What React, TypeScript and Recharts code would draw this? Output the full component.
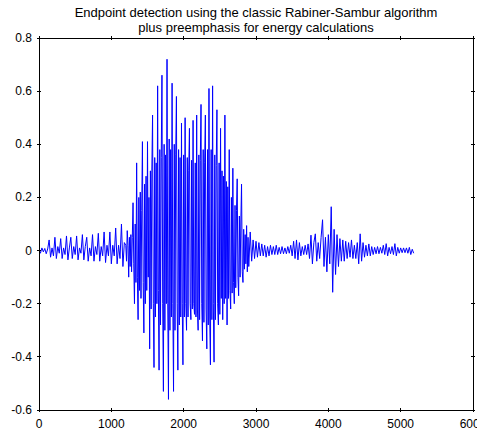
import { Line, LineChart, XAxis, YAxis } from "recharts";

// speech waveform: 0..1180 and 2900..5180 every 20 samples, the vowel every 10

// 0 .. 1180: silence, then small voiced pulses
const onset = [
  0.005, -0.01, 0.01, -0.005, 0.008, -0.012, 0.006, 0.04, -0.025, 0.01,
  -0.02, 0.05, -0.03, 0.015, -0.01, 0.045, -0.03, 0.01, -0.015, 0.055,
  -0.035, 0.01, 0.05, -0.03, 0.015, -0.015, 0.055, -0.035, 0.01, -0.01,
  0.06, -0.035, 0.015, 0.05, -0.04, 0.01, -0.02, 0.06, -0.04, 0.015,
  -0.015, 0.065, -0.04, 0.015, -0.02, 0.07, -0.045, 0.02, -0.02, 0.07,
  -0.05, 0.02, -0.02, 0.085, -0.05, 0.02, -0.03, 0.1, -0.06, 0.03,
];

// 1200 .. 2890: the vowel
const vowel = [
  0.02, -0.04, 0.075, 0.02, -0.1, 0.05, -0.06, 0.06, -0.08, 0.05,
  0.18, -0.05, -0.2, 0.1, -0.12, 0.33, -0.1, -0.26, 0.2, -0.15,
  0.22, -0.18, 0.15, 0.41, -0.12, -0.31, 0.25, -0.2, 0.28, -0.15,
  0.41, -0.1, 0.2, -0.37, 0.3, -0.22, 0.3, 0.51, -0.2, -0.44,
  0.35, -0.25, 0.33, -0.2, 0.62, -0.15, -0.45, 0.38, -0.28, 0.35,
  0.66, -0.2, -0.53, 0.4, -0.3, 0.36, -0.2, 0.72, -0.2, -0.56,
  0.42, -0.3, 0.38, -0.25, 0.63, -0.2, -0.53, 0.4, -0.3, 0.36,
  0.58, -0.2, -0.45, 0.38, -0.28, 0.35, -0.25, 0.48, -0.2, -0.43,
  0.36, -0.25, 0.5, -0.2, -0.3, 0.35, -0.25, 0.3, 0.46, -0.2,
  -0.26, 0.34, -0.22, 0.49, -0.2, -0.24, 0.33, -0.25, 0.51, -0.22,
  -0.3, 0.36, -0.26, 0.34, 0.55, -0.2, -0.34, 0.38, -0.27, 0.33,
  0.51, -0.22, -0.37, 0.38, -0.28, 0.61, -0.25, -0.43, 0.38, -0.26,
  0.62, -0.2, -0.42, 0.36, -0.26, 0.32, 0.53, -0.2, -0.28, 0.33,
  -0.24, 0.46, -0.18, 0.3, -0.26, 0.28, -0.2, 0.51, -0.18, 0.26,
  -0.28, 0.24, -0.18, 0.38, -0.15, -0.22, 0.2, -0.16, 0.31, -0.12,
  -0.2, 0.17, -0.14, 0.15, 0.27, -0.1, -0.17, 0.13, -0.1, 0.1,
  0.25, -0.08, -0.12, 0.08, -0.07, 0.06, -0.05, 0.094, -0.08, 0.05,
];

// 2900 .. 5180: low noise and the final burst
const coda = [
  -0.06, 0.07, -0.04, 0.04, -0.03, 0.035, -0.025, 0.03, -0.02, 0.025,
  -0.02, 0.02, -0.025, 0.015, -0.02, 0.02, -0.015, 0.015, -0.015, 0.02,
  -0.015, 0.012, -0.012, 0.015, -0.012, 0.01, -0.012, 0.015, -0.01, 0.02,
  -0.02, 0.035, -0.03, 0.04, -0.035, 0.03, -0.02, 0.015, -0.015, 0.02,
  -0.015, 0.025, -0.03, 0.058, -0.05, 0.03, 0.063, -0.04, 0.03, -0.03,
  0.05, 0.116, -0.06, 0.05, -0.08, 0.06, -0.05, 0.165, -0.157, 0.08,
  -0.09, 0.06, -0.06, 0.045, -0.04, 0.04, -0.04, 0.035, -0.03, 0.03,
  -0.025, 0.04, -0.03, 0.02, -0.03, 0.03, -0.05, 0.063, -0.04, 0.03,
  -0.025, 0.02, -0.02, 0.025, -0.02, 0.015, -0.015, 0.012, -0.012, 0.015,
  -0.012, 0.012, -0.01, 0.02, -0.015, 0.026, -0.02, 0.012, -0.012, 0.015,
  -0.015, 0.026, -0.02, 0.012, -0.01, 0.01, -0.008, 0.01, -0.008, 0.01,
  -0.01, 0.012, -0.015, 0.005, -0.01,
];

const segments = [
  { start: 0, step: 20, values: onset },
  { start: 1200, step: 10, values: vowel },
  { start: 2900, step: 20, values: coda },
];

const xTicks = [0, 1000, 2000, 3000, 4000, 5000, 6000];
const yTicks = [-0.6, -0.4, -0.2, 0, 0.2, 0.4, 0.6, 0.8];
const titleLines = [
  "Endpoint detection using the classic Rabiner-Sambur algorithm",
  "plus preemphasis for energy calculations",
];

const data = segments.flatMap((s) => s.values.map((v, i) => ({ n: s.start + i * s.step, v })));

const FONT = "Arial, 'Liberation Sans', sans-serif";
const TICK = 4;
const AXIS = { stroke: "#000", shapeRendering: "crispEdges" };

function BottomTick({ x, y, payload }: any) {
  return (
    <g>
      <line x1={x} x2={x} y1={y} y2={y - TICK} stroke="#000" shapeRendering="crispEdges" />
      <text x={x} y={y + 16} textAnchor="middle" fontFamily={FONT} fontSize={12} fill="#000">
        {payload.value}
      </text>
    </g>
  );
}

function TopTick({ x, y }: any) {
  return <line x1={x} x2={x} y1={y} y2={y + TICK} stroke="#000" shapeRendering="crispEdges" />;
}

function LeftTick({ x, y, payload }: any) {
  return (
    <g>
      <line x1={x} x2={x + TICK} y1={y} y2={y} stroke="#000" shapeRendering="crispEdges" />
      <text x={x - 5} y={y + 4} textAnchor="end" fontFamily={FONT} fontSize={12} fill="#000">
        {String(payload.value)}
      </text>
    </g>
  );
}

function RightTick({ x, y }: any) {
  return <line x1={x} x2={x - TICK} y1={y} y2={y} stroke="#000" shapeRendering="crispEdges" />;
}

export default function App() {
  return (
    <div style={{ position: "relative", width: 477, height: 422 }}>
      <style>{`.recharts-wrapper, .recharts-surface { overflow: visible !important; }`}</style>
      {titleLines.map((t, i) => (
        <div
          key={i}
          style={{
            position: "absolute",
            left: 248,
            top: -3 + i * 15,
            transform: "translateX(-50%)",
            whiteSpace: "nowrap",
            fontFamily: FONT,
            fontSize: 13,
            lineHeight: "15px",
            color: "#000",
          }}
        >
          {t}
        </div>
      ))}
      <LineChart
        width={477}
        height={422}
        data={data}
        margin={{ top: 29, right: 11, left: 0, bottom: 0 }}
        style={{ overflow: "visible" }}
      >
        <XAxis
          dataKey="n"
          type="number"
          domain={[0, 6000]}
          ticks={xTicks}
          interval={0}
          height={20}
          tickSize={0}
          tickLine={false}
          axisLine={AXIS}
          tick={<BottomTick />}
          allowDataOverflow
        />
        <XAxis
          xAxisId="top"
          orientation="top"
          dataKey="n"
          type="number"
          domain={[0, 6000]}
          ticks={xTicks}
          interval={0}
          height={1}
          tickSize={0}
          tickLine={false}
          axisLine={AXIS}
          tick={<TopTick />}
          allowDataOverflow
        />
        <YAxis
          type="number"
          domain={[-0.6, 0.8]}
          ticks={yTicks}
          interval={0}
          width={31}
          tickSize={0}
          tickLine={false}
          axisLine={AXIS}
          tick={<LeftTick />}
          allowDataOverflow
        />
        <YAxis
          yAxisId="right"
          orientation="right"
          type="number"
          domain={[-0.6, 0.8]}
          ticks={yTicks}
          interval={0}
          width={1}
          tickSize={0}
          tickLine={false}
          axisLine={AXIS}
          tick={<RightTick />}
          allowDataOverflow
        />
        <Line
          type="linear"
          dataKey="v"
          stroke="#0000ff"
          strokeWidth={1}
          dot={false}
          isAnimationActive={false}
        />
        <Line
          xAxisId="top"
          yAxisId="right"
          type="linear"
          dataKey="v"
          stroke="none"
          dot={false}
          activeDot={false}
          legendType="none"
          isAnimationActive={false}
        />
      </LineChart>
    </div>
  );
}
